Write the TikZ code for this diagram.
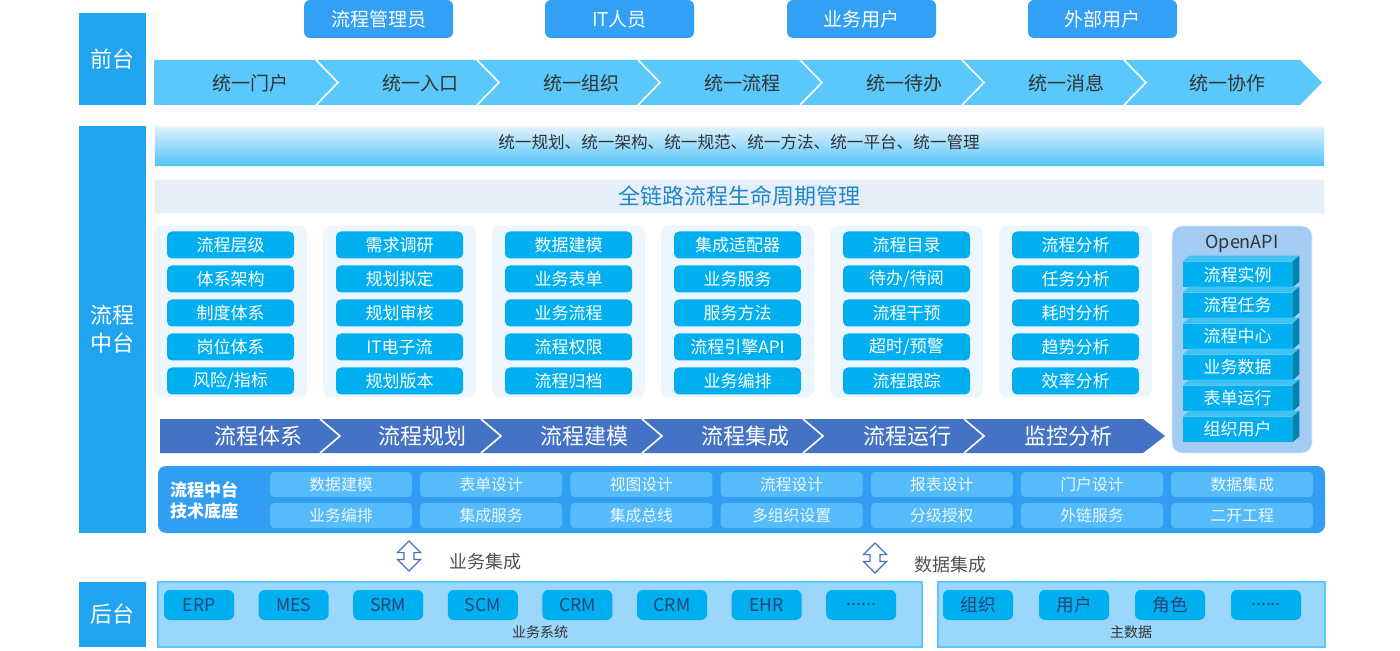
\documentclass[tikz,border=0pt]{standalone}
\usepackage{fontspec}
\setmainfont{Noto Sans CJK SC}
\usetikzlibrary{shapes.arrows}
\definecolor{tabblue}{HTML}{20A4F0}
\definecolor{roleblue}{HTML}{31A0F5}
\definecolor{bandblue}{HTML}{5AC8FA}
\definecolor{itemblue}{HTML}{00AFEF}
\definecolor{panelgray}{HTML}{EEF6FD}
\definecolor{procblue}{HTML}{4472C4}
\definecolor{baseblue}{HTML}{319EF4}
\definecolor{cellblue}{HTML}{55BBFB}
\definecolor{apiback}{HTML}{A3CCF2}
\definecolor{lowblue}{HTML}{9AD7FB}
\definecolor{darktext}{HTML}{333333}
\definecolor{lifeback}{HTML}{E6EFF8}
\definecolor{lifetext}{HTML}{1D87C9}
\newcommand{\moredots}{......}

\begin{document}
\begin{tikzpicture}[x=0.5pt,y=-0.5pt,
  side/.style={shape=rectangle,fill=tabblue,text=white,minimum width=33.5pt,align=center,font=\fontsize{11}{14}\selectfont},
  role/.style={shape=rectangle,rounded corners=3pt,fill=roleblue,text=white,minimum width=74.5pt,minimum height=19pt,font=\fontsize{9.5}{11}\selectfont},
  toptext/.style={text=darktext,font=\fontsize{9.5}{11}\selectfont},
  panel/.style={shape=rectangle,rounded corners=4pt,fill=panelgray,draw=white!90!tabblue,minimum width=76pt,minimum height=85.5pt},
  item/.style={shape=rectangle,rounded corners=2.5pt,fill=itemblue,text=white,minimum width=63.5pt,minimum height=13.5pt,inner sep=0pt,font=\fontsize{8.5}{10}\selectfont},
  apibox/.style={shape=rectangle,fill=itemblue,text=white,minimum width=54.5pt,minimum height=12.5pt,inner sep=0pt,font=\fontsize{8.5}{10}\selectfont},
  proctext/.style={text=white,font=\fontsize{11}{13}\selectfont},
  cell/.style={shape=rectangle,rounded corners=2pt,fill=cellblue,text=white!92!tabblue,minimum width=71pt,minimum height=12.5pt,inner sep=0pt,font=\fontsize{7.9}{9}\selectfont},
  lowpanel/.style={shape=rectangle,fill=lowblue,draw=bandblue,line width=0.6pt,minimum height=32.5pt},
  lowitem/.style={shape=rectangle,rounded corners=3pt,fill=itemblue,text=procblue!60!black,minimum width=35pt,minimum height=15pt,inner sep=0pt,font=\fontsize{8.8}{10}\selectfont},
  lowtext/.style={text=darktext,font=\fontsize{7}{9}\selectfont},
  dblarrow/.style={shape=double arrow,rotate=90,draw=procblue,fill=white,line width=0.6pt,minimum height=15pt,minimum width=11pt,inner sep=2.2pt,double arrow head extend=3.3pt},
  sep/.style={draw=white,line width=0.8pt}]
\useasboundingbox (0,0) rectangle (1400,651);

% left tabs
\node[side,minimum height=46pt] (front) at (112.5,59) {前台};
\node[side,minimum height=203.5pt] (middle) at (112.5,329.5) {流程\\中台};
\node[side,minimum height=32.5pt] (back) at (112.5,614.5) {后台};

% roles
\node[role] (admin) at (378.5,19) {流程管理员};
\node[role] (itstaff) at (619.5,19) {IT人员};
\node[role] (bizuser) at (861.5,19) {业务用户};
\node[role] (extuser) at (1102.5,19) {外部用户};

% unified band
\fill[bandblue] (154,60) -- (1300,60) -- (1322,82.5) -- (1300,105) -- (154,105) -- cycle;
\foreach \b in {316,477,638,800,962,1124}
  \draw[sep] (\b,60) -- (\b+22,82.5) -- (\b,105);
\node[toptext] (portal) at (250,83) {统一门户};
\node[toptext] (entry) at (420,83) {统一入口};
\node[toptext] (org) at (581,83) {统一组织};
\node[toptext] (flow) at (742,83) {统一流程};
\node[toptext] (todo) at (904,83) {统一待办};
\node[toptext] (msg) at (1066,83) {统一消息};
\node[toptext] (collab) at (1227,83) {统一协作};

% strategy bars
\node[shape=rectangle,top color=white!85!tabblue,bottom color=bandblue!85!tabblue,draw=white!92!tabblue,minimum width=585pt,minimum height=19.5pt] (unifybar) at (739,146.5) {};
\node[text=darktext,font=\fontsize{8.3}{10}\selectfont] (unify) at (739,142) {统一规划、统一架构、统一规范、统一方法、统一平台、统一管理};
\node[shape=rectangle,fill=lifeback,draw=white!95!tabblue,minimum width=585pt,minimum height=17pt,text=lifetext,font=\fontsize{11}{13}\selectfont] (lifecycle) at (739,196) {全链路流程生命周期管理};

% capability columns
\node[panel] (col1) at (230.5,311.5) {};
\node[panel] (col2) at (399.5,311.5) {};
\node[panel] (col3) at (568.5,311.5) {};
\node[panel] (col4) at (737.5,311.5) {};
\node[panel] (col5) at (906.5,311.5) {};
\node[panel] (col6) at (1075.5,311.5) {};
\foreach \t [count=\j] in {流程层级,体系架构,制度体系,岗位体系,风险/指标}
  \node[item] (sys\j) at (230.5,211+34*\j) {\t};
\foreach \t [count=\j] in {需求调研,规划拟定,规划审核,IT电子流,规划版本}
  \node[item] (plan\j) at (399.5,211+34*\j) {\t};
\foreach \t [count=\j] in {数据建模,业务表单,业务流程,流程权限,流程归档}
  \node[item] (model\j) at (568.5,211+34*\j) {\t};
\foreach \t [count=\j] in {集成适配器,业务服务,服务方法,流程引擎API,业务编排}
  \node[item] (integ\j) at (737.5,211+34*\j) {\t};
\foreach \t [count=\j] in {流程目录,待办/待阅,流程干预,超时/预警,流程跟踪}
  \node[item] (run\j) at (906.5,211+34*\j) {\t};
\foreach \t [count=\j] in {流程分析,任务分析,耗时分析,趋势分析,效率分析}
  \node[item] (mon\j) at (1075.5,211+34*\j) {\t};

% openapi
\node[shape=rectangle,rounded corners=5pt,fill=apiback,draw=white!70!apiback,minimum width=70pt,minimum height=113.5pt] (apipanel) at (1242,339.5) {};
\node[text=darktext,font=\fontsize{9}{11}\selectfont] (apititle) at (1242,244) {OpenAPI};
\foreach \t [count=\j] in {流程实例,流程任务,流程中心,业务数据,表单运行,组织用户} {
  \node[apibox] (api\j) at (1237.5,243.5+31*\j) {\t};
  \fill[itemblue!75!white] (api\j.north west) -- ++(7,-6) -- ([shift={(7,-6)}]api\j.north east) -- (api\j.north east) -- cycle;
  \fill[itemblue!75!black] (api\j.north east) -- ++(7,-6) -- ([shift={(7,-6)}]api\j.south east) -- (api\j.south east) -- cycle;
}

% process chain
\fill[procblue] (160,419) -- (1143,419) -- (1165,436) -- (1143,453) -- (160,453) -- cycle;
\foreach \b in {320,481,642,803,964}
  \draw[sep] (\b,419) -- (\b+20,436) -- (\b,453);
\node[proctext] (pSys) at (258,436) {流程体系};
\node[proctext] (pPlan) at (422,436) {流程规划};
\node[proctext] (pModel) at (584,436) {流程建模};
\node[proctext] (pInteg) at (745,436) {流程集成};
\node[proctext] (pRun) at (907,436) {流程运行};
\node[proctext] (pMon) at (1068,436) {监控分析};

% technical base
\node[shape=rectangle,rounded corners=4pt,fill=baseblue,minimum width=583.5pt,minimum height=33.5pt] (base) at (741.5,499.5) {};
\node[text=white,align=left,font=\bfseries\fontsize{8.5}{10.5}\selectfont] (baselbl) at (204,500) {流程中台\\技术底座};
\foreach \t [count=\i] in {数据建模,表单设计,视图设计,流程设计,报表设计,门户设计,数据集成}
  \node[cell] (tA\i) at (190.8+150.2*\i,484.5) {\t};
\foreach \t [count=\i] in {业务编排,集成服务,集成总线,多组织设置,分级授权,外链服务,二开工程}
  \node[cell] (tB\i) at (190.8+150.2*\i,515.5) {\t};

% integration arrows
\node[dblarrow] (bizarrow) at (409,556) {};
\node[text=darktext!85!white,font=\fontsize{9}{11}\selectfont] (bizint) at (485,562) {业务集成};
\node[dblarrow] (dataarrow) at (875,558) {};
\node[text=darktext!85!white,font=\fontsize{9}{11}\selectfont] (dataint) at (950,565) {数据集成};

% back end
\node[lowpanel,minimum width=382pt] (bizsys) at (540,614.5) {};
\node[lowpanel,minimum width=193.5pt] (master) at (1131.5,614.5) {};
\foreach \t [count=\i] in {ERP,MES,SRM,SCM,CRM,CRM,EHR,\moredots}
  \node[lowitem] (b\i) at (104.4+94.6*\i,605) {\t};
\foreach \t [count=\i] in {组织,用户,角色,\moredots}
  \node[lowitem] (m\i) at (882+96*\i,605) {\t};
\node[lowtext] (bizsyslbl) at (540,632) {业务系统};
\node[lowtext] (masterlbl) at (1131,632) {主数据};
\end{tikzpicture}
\end{document}
